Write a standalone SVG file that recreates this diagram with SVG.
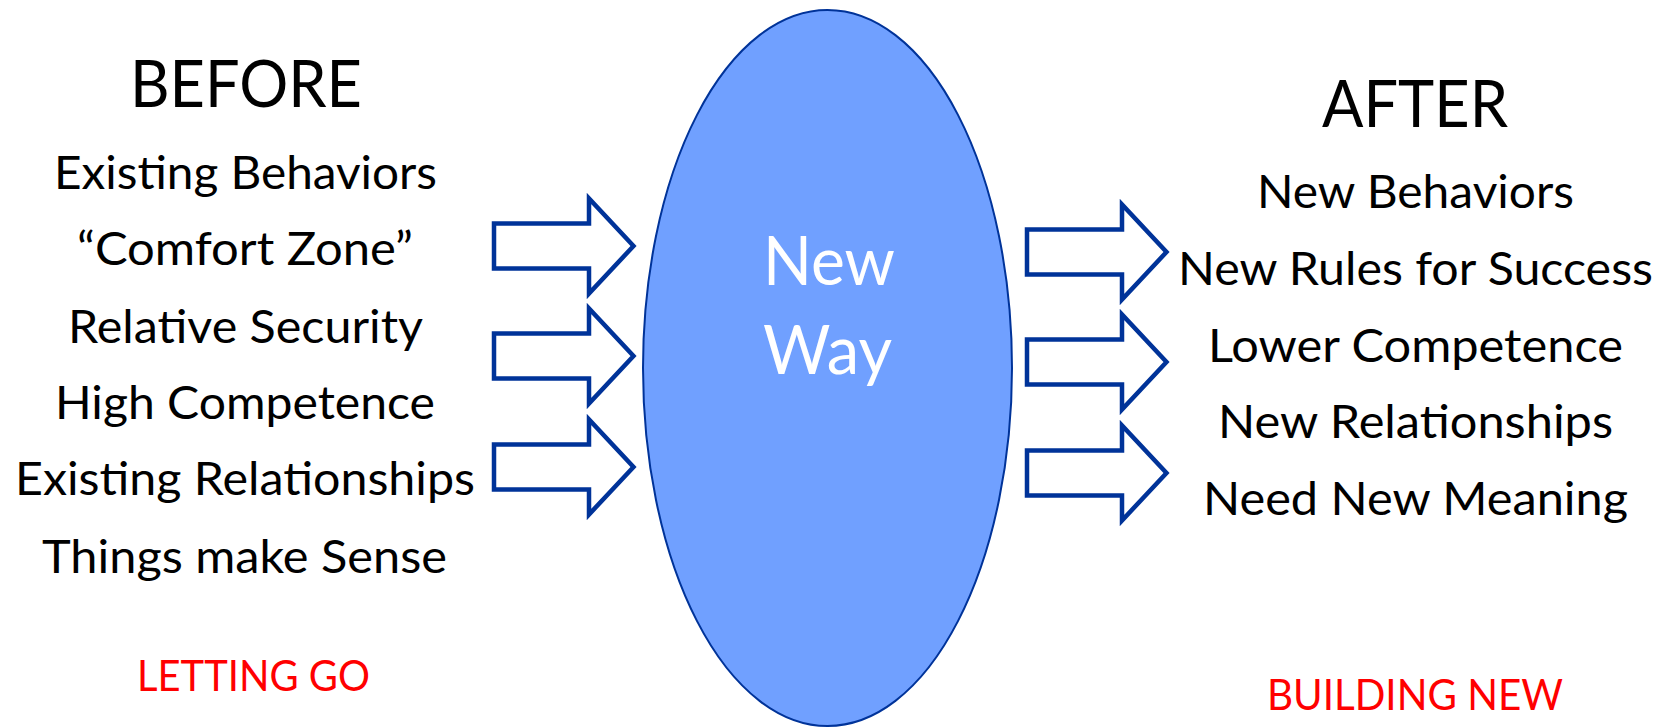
<svg xmlns="http://www.w3.org/2000/svg" xmlns:xlink="http://www.w3.org/1999/xlink" width="1662" height="727" viewBox="0 0 1662 727">
  <style>
    .t { font-family: Lato, "Open Sans", "Liberation Sans", sans-serif; fill: #000; }
    .head { font-size: 65px; }
    .item { font-size: 47px; }
    .tag { font-size: 43px; fill: #ff0000; }
    .core { font-size: 67px; fill: #ffffff; }
    .arrow { fill: #ffffff; stroke: #003399; stroke-width: 4.5; stroke-linejoin: miter; }
  </style>
  <defs>
    <!-- block arrow pointing right, origin at middle of the tail -->
    <path id="blockArrow" d="M0,-22.5 H95 V-47.5 L139.5,0 L95,47.5 V22.5 H0 Z"/>
  </defs>

  <rect width="1662" height="727" fill="#ffffff"/>

  <!-- central ellipse -->
  <g id="new-way">
    <ellipse cx="827.5" cy="368" rx="184.5" ry="358" fill="#70a0ff" stroke="#003399" stroke-width="2"/>
    <text class="t core" x="763" y="285" textLength="132" lengthAdjust="spacingAndGlyphs">New</text>
    <text class="t core" x="763" y="374" textLength="129" lengthAdjust="spacingAndGlyphs">Way</text>
  </g>

  <!-- left column -->
  <g id="before">
    <text class="t head" x="130" y="106.5" textLength="232" lengthAdjust="spacingAndGlyphs">BEFORE</text>
    <text class="t item" x="54" y="188.5" textLength="383" lengthAdjust="spacingAndGlyphs">Existing Behaviors</text>
    <text class="t item" x="77" y="265" textLength="336" lengthAdjust="spacingAndGlyphs">“Comfort Zone”</text>
    <text class="t item" x="68" y="342.5" textLength="355" lengthAdjust="spacingAndGlyphs">Relative Security</text>
    <text class="t item" x="55" y="419" textLength="380" lengthAdjust="spacingAndGlyphs">High Competence</text>
    <text class="t item" x="15" y="495" textLength="460" lengthAdjust="spacingAndGlyphs">Existing Relationships</text>
    <text class="t item" x="42" y="572.5" textLength="405" lengthAdjust="spacingAndGlyphs">Things make Sense</text>
  </g>
  <g id="letting-go">
    <text class="t tag" x="137" y="690.5" textLength="233" lengthAdjust="spacingAndGlyphs">LETTING GO</text>
  </g>

  <!-- right column -->
  <g id="after">
    <text class="t head" x="1322" y="126.5" textLength="186" lengthAdjust="spacingAndGlyphs">AFTER</text>
    <text class="t item" x="1257" y="208" textLength="317" lengthAdjust="spacingAndGlyphs">New Behaviors</text>
    <text class="t item" x="1178" y="285" textLength="475" lengthAdjust="spacingAndGlyphs">New Rules for Success</text>
    <text class="t item" x="1208" y="361.5" textLength="415" lengthAdjust="spacingAndGlyphs">Lower Competence</text>
    <text class="t item" x="1218" y="438" textLength="395" lengthAdjust="spacingAndGlyphs">New Relationships</text>
    <text class="t item" x="1203" y="515" textLength="425" lengthAdjust="spacingAndGlyphs">Need New Meaning</text>
  </g>
  <g id="building-new">
    <text class="t tag" x="1267" y="710" textLength="296" lengthAdjust="spacingAndGlyphs">BUILDING NEW</text>
  </g>

  <!-- block arrows into and out of the ellipse -->
  <g id="connectors">
    <use xlink:href="#blockArrow" class="arrow" transform="translate(494,246)"/>
    <use xlink:href="#blockArrow" class="arrow" transform="translate(494,356)"/>
    <use xlink:href="#blockArrow" class="arrow" transform="translate(494,467)"/>
    <use xlink:href="#blockArrow" class="arrow" transform="translate(1027,252)"/>
    <use xlink:href="#blockArrow" class="arrow" transform="translate(1027,362)"/>
    <use xlink:href="#blockArrow" class="arrow" transform="translate(1027,473)"/>
  </g>
</svg>
